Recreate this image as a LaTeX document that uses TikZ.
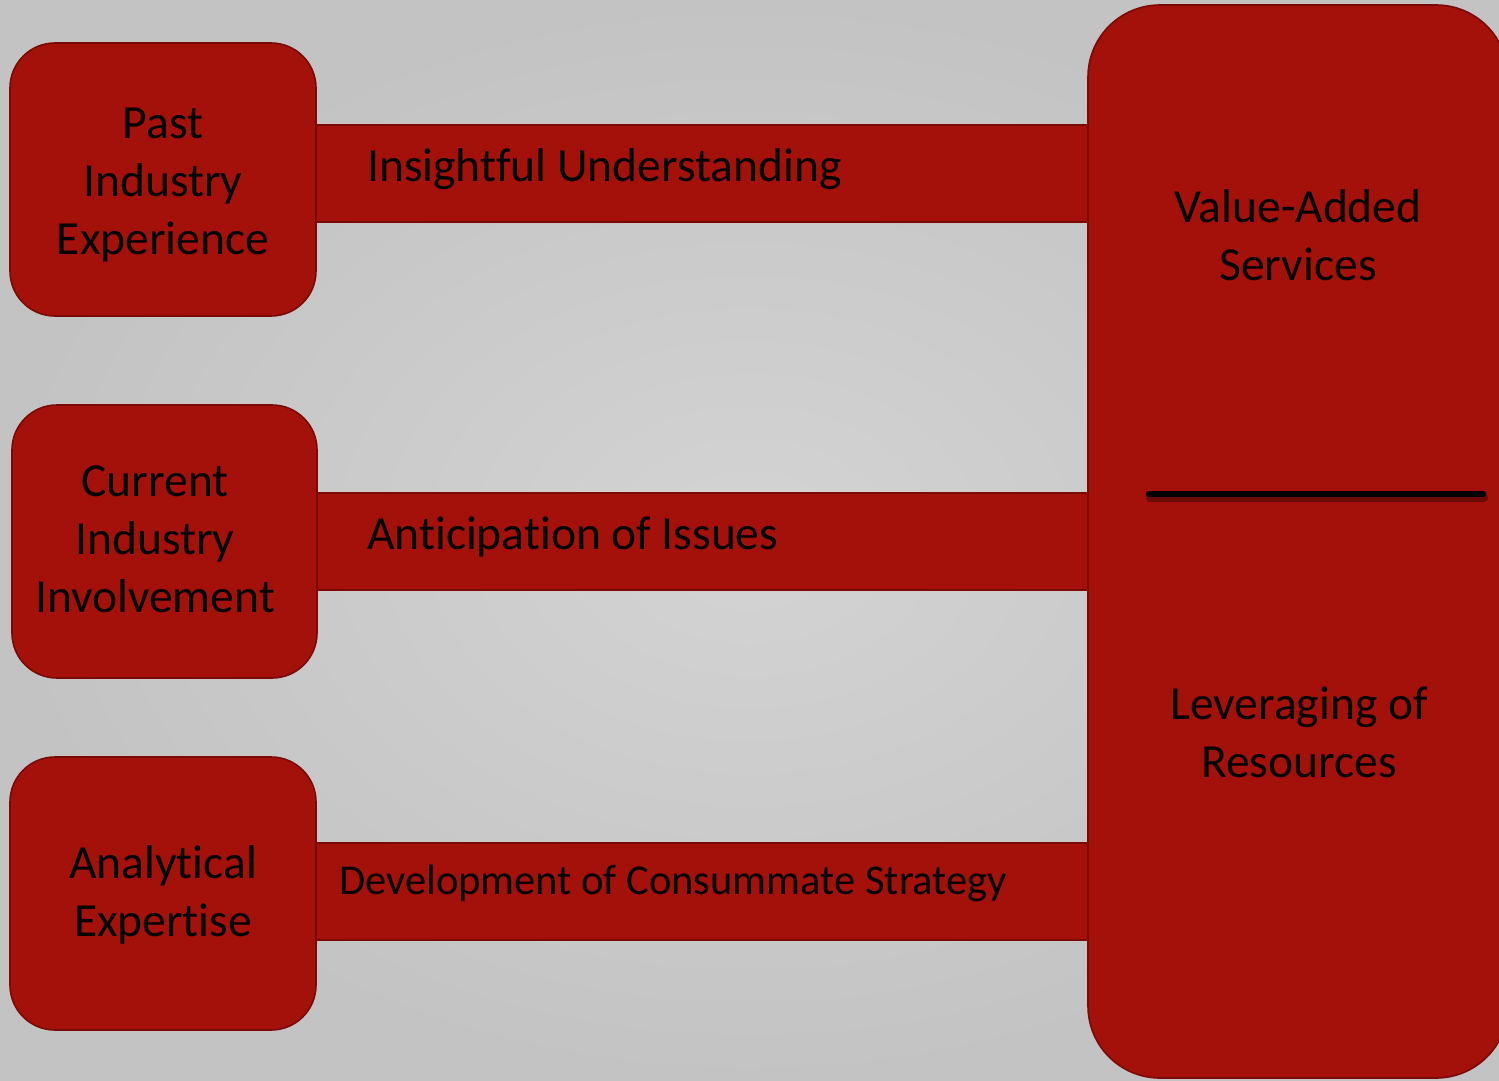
\documentclass[tikz,border=0pt]{standalone}
\usepackage{fontspec}
\setmainfont{Carlito}[Ligatures={NoCommon,NoRequired,NoContextual}]
\usetikzlibrary{positioning}
\definecolor{boxred}{HTML}{A3110A}
\definecolor{edgered}{HTML}{7A0A06}
\definecolor{bgin}{gray}{0.83}
\definecolor{bgout}{gray}{0.765}
\newcommand{\nl}{\kern0pt{}}
\begin{document}
\begin{tikzpicture}[x=1pt,y=-1pt,
  redbox/.style={draw=edgered, line width=1.6pt, fill=boxred, rounded corners=45pt,
    align=center, text=black, inner sep=0pt},
  bar/.style={draw=edgered, line width=1.6pt, fill=boxred, inner sep=0pt},
  bartext/.style={text=black, anchor=west, inner sep=0pt, font=\fontsize{47.5}{58}\selectfont},
  bigtext/.style={text=black, align=center, inner sep=0pt, font=\fontsize{47.5}{58}\selectfont}]
\useasboundingbox (0,0) rectangle (1499,1081);
\shade[inner color=bgin, outer color=bgout] (0,0) rectangle (1499,1081);

% bars
\node[bar, minimum width=774pt, minimum height=97pt] (b1) at (702,173.5) {};
\node[bar, minimum width=772pt, minimum height=97pt] (b2) at (703,541.5) {};
\node[bar, minimum width=774pt, minimum height=97pt] (b3) at (702,891.5) {};

% left boxes
\node[redbox, minimum width=306pt, minimum height=273pt] (past) at (163,179.5) {};
\node[redbox, minimum width=305pt, minimum height=273pt] (curr) at (164.5,541.5) {};
\node[redbox, minimum width=306pt, minimum height=273pt] (anal) at (163,893.5) {};

% right box
\node[redbox, rounded corners=72pt, minimum width=420pt, minimum height=1073pt] (right) at (1298,541.5) {};

% texts
\node[bigtext] (t1) at (163,185) {Past\\Industry\\Experience};
\node[bigtext] (t2) at (155,539) {Current\\Industry\\Involvement};
\node[bigtext] (t3) at (163,895) {Analytical\\Expert\nl ise};
\node[bigtext] (t4) at (1298,235) {Value-Added\\Services};
\node[bigtext] (t5) at (1299,732) {Leveraging of\\Resources};

\node[bartext] (l1) at (367,169) {Insight\nl f\nl ul Understanding};
\node[bartext] (l2) at (367,537) {Ant\nl icipat\nl ion of Issues};
\node[bartext, font=\fontsize{42.5}{50}\selectfont] (l3) at (339,883) {Development of Consummate Strategy};

% divider
\coordinate (d1) at (1149,494);
\coordinate (d2) at (1483,494);
\coordinate (d1s) at (1150,497.5);
\coordinate (d2s) at (1484,497.5);
\draw[line width=8pt, line cap=round, black, opacity=0.35] (d1s) -- (d2s);
\draw[line width=6.5pt, line cap=round, black] (d1) -- (d2);
\end{tikzpicture}
\end{document}
